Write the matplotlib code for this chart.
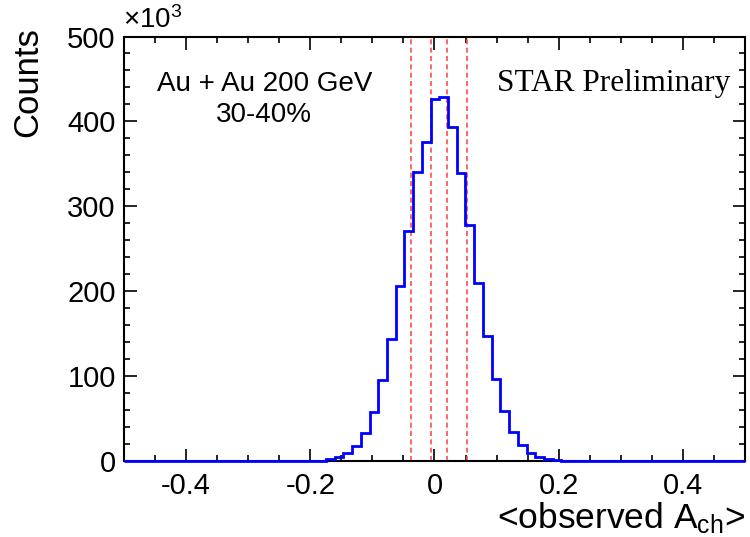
import numpy as np
import matplotlib
matplotlib.use("Agg")
import matplotlib.pyplot as plt
from matplotlib.ticker import MultipleLocator

plt.rcParams['font.family'] = ['Liberation Sans', 'DejaVu Sans']
plt.rcParams['mathtext.fontset'] = 'custom'
plt.rcParams['mathtext.rm'] = 'Liberation Sans'
plt.rcParams['mathtext.it'] = 'Liberation Sans'
plt.rcParams['mathtext.bf'] = 'Liberation Sans'

# ---- data (counts in units of 10^3) ----
first_edge = -0.1747      # left edge of first non-empty bin
bin_width = 0.01404
counts = [1.6, 4.0, 8.7, 17.7, 32.3, 57.8, 95.2, 143.5, 206, 271, 340, 376,
          426, 429, 393, 339, 278, 209, 147, 96, 58.6, 34.2, 18.5, 8.7,
          4.7, 2.0, 0.8]
cut_lines = [-0.038, -0.006, 0.020, 0.052]
x_range = (-0.5, 0.5)
y_range = (0, 500)
x_ticks = [-0.4, -0.2, 0, 0.2, 0.4]
x_ticklabels = ['-0.4', '-0.2', '0', '0.2', '0.4']
y_ticks = [0, 100, 200, 300, 400, 500]

fig = plt.figure(figsize=(7.5, 5.37), dpi=100)
ax = fig.add_axes([0.1653, 0.1421, 0.828, 0.7899])

edges = first_edge + bin_width * np.arange(len(counts) + 1)
full_edges = np.concatenate([[x_range[0]], edges, [x_range[1]]])
full_vals = np.concatenate([[0.0], counts, [0.0]])
ax.stairs(full_vals, full_edges, baseline=None, color='#0000ff', lw=2.0,
          zorder=3, clip_on=False)

for xc in cut_lines:
    ax.axvline(xc, color='#ff4d4d', lw=1.2, dashes=(3, 2), zorder=2)

ax.set_xlim(*x_range)
ax.set_ylim(*y_range)
ax.set_xticks(x_ticks)
ax.set_xticklabels(x_ticklabels)
ax.set_yticks(y_ticks)
ax.xaxis.set_minor_locator(MultipleLocator(0.05))
ax.yaxis.set_minor_locator(MultipleLocator(20))
ax.tick_params(which='both', direction='in', top=True, right=True,
               width=1.2, labelsize=21)
ax.tick_params(axis='x', which='major', length=9, pad=8)
ax.tick_params(axis='x', which='minor', length=4.5)
ax.tick_params(axis='y', which='major', length=9, pad=6)
ax.tick_params(axis='y', which='minor', length=4.5)
for s in ax.spines.values():
    s.set_linewidth(1.5)

fig.text(0.993, 0.016, r'<observed A$_{\mathrm{ch}}$>', ha='right',
         va='baseline', fontsize=25.5)
fig.text(0.037, 0.847, 'Counts', rotation=90, ha='center', va='center',
         fontsize=25)
fig.text(0.164, 0.963, r'$\times10^{3}$', ha='left', va='center', fontsize=20)

ax.text(0.226, 0.889, 'Au + Au 200 GeV', transform=ax.transAxes,
        ha='center', va='center', fontsize=20)
ax.text(0.226, 0.814, '30-40%', transform=ax.transAxes,
        ha='center', va='center', fontsize=20)
ax.text(0.976, 0.889, 'STAR Preliminary', transform=ax.transAxes,
        ha='right', va='center', fontsize=22.5, family='Liberation Serif')

fig.savefig('out.png', dpi=100)
